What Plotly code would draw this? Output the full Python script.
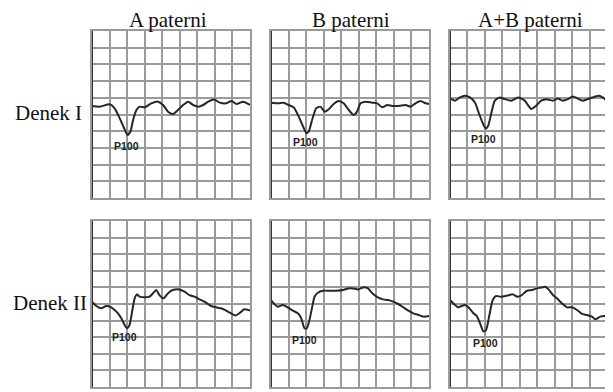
import plotly.graph_objects as go

# ---- data (grid units: x = divisions from left, y = divisions from top) ----
column_titles = ["A paterni", "B paterni", "A+B paterni"]
row_titles = ["Denek I", "Denek II"]
peak_label = "P100"

a1_x = [0, 0.44, 1.0, 1.29, 1.58, 1.83, 2.02, 2.19, 2.34, 2.53, 2.72, 3.0, 3.38, 3.76, 4.05, 4.33, 4.62,
        4.9, 5.19, 5.48, 5.76, 6.05, 6.33, 6.62, 6.96, 7.28, 7.66, 7.95, 8.23, 8.61, 9.0]
a1_y = [4.49, 4.53, 4.39, 4.63, 5.23, 5.82, 6.22, 6.02, 5.33, 4.73, 4.53, 4.57, 4.33, 4.23, 4.43, 4.83, 4.97,
        4.73, 4.43, 4.23, 4.43, 4.53, 4.43, 4.23, 4.10, 4.29, 4.33, 4.19, 4.37, 4.23, 4.43]

b1_x = [0, 0.44, 0.72, 1.0, 1.29, 1.58, 1.83, 2.02, 2.15, 2.34, 2.57, 2.81, 3.06, 3.29, 3.57, 3.86, 4.14,
        4.43, 4.71, 4.9, 5.1, 5.38, 5.76, 6.05, 6.33, 6.62, 6.9, 7.28, 7.66, 7.95, 8.23, 8.52, 8.8, 9.0]
b1_y = [4.29, 4.33, 4.29, 4.43, 4.57, 5.13, 5.73, 6.12, 6.02, 5.33, 4.63, 4.53, 4.83, 4.69, 4.37, 4.19, 4.33,
        4.73, 5.03, 4.83, 4.33, 4.23, 4.29, 4.33, 4.57, 4.43, 4.49, 4.49, 4.43, 4.53, 4.33, 4.19, 4.33, 4.37]

ab1_x = [0, 0.29, 0.57, 0.86, 1.14, 1.43, 1.67, 1.9, 2.05, 2.19, 2.38, 2.57, 2.85, 3.14, 3.52, 3.9, 4.28,
         4.66, 4.94, 5.23, 5.51, 5.89, 6.18, 6.46, 6.75, 7.03, 7.32, 7.6, 7.89, 8.17, 8.56, 8.75, 9.0]
ab1_y = [4.04, 4.17, 3.98, 3.88, 3.98, 4.28, 4.97, 5.57, 5.84, 5.67, 4.87, 4.17, 3.98, 4.08, 4.17, 3.98, 4.17,
         4.67, 4.47, 4.17, 4.08, 4.17, 4.04, 4.17, 4.08, 3.92, 4.04, 4.17, 4.08, 3.98, 3.88, 3.98, 4.17]

a2_x = [0, 0.25, 0.53, 0.81, 1.1, 1.29, 1.48, 1.67, 1.86, 1.99, 2.14, 2.3, 2.43, 2.56, 2.71, 2.99, 3.28,
        3.47, 3.66, 3.84, 4.07, 4.32, 4.6, 4.98, 5.27, 5.55, 5.84, 6.12, 6.4, 6.78, 7.07, 7.35, 7.64, 7.92,
        8.16, 8.39, 8.67, 9.0]
a2_y = [4.86, 5.12, 5.26, 5.12, 5.2, 5.36, 5.56, 5.86, 6.26, 6.46, 6.26, 5.36, 4.66, 4.42, 4.56, 4.6, 4.56,
        4.36, 4.16, 4.46, 4.66, 4.36, 4.16, 4.12, 4.26, 4.46, 4.56, 4.72, 4.86, 5.12, 5.2, 5.26, 5.4, 5.56,
        5.7, 5.56, 5.32, 5.4]

b2_x = [0, 0.19, 0.38, 0.67, 0.95, 1.24, 1.53, 1.72, 1.91, 2.04, 2.19, 2.35, 2.48, 2.67, 2.96, 3.34, 3.72,
        4.1, 4.39, 4.68, 4.96, 5.25, 5.53, 5.82, 6.11, 6.39, 6.68, 6.96, 7.25, 7.54, 7.82, 8.11, 8.4, 8.68, 9.0]
b2_y = [4.76, 5.0, 5.16, 5.06, 5.2, 5.4, 5.56, 5.86, 6.46, 6.46, 5.96, 5.16, 4.56, 4.32, 4.2, 4.2, 4.2,
        4.16, 4.06, 4.06, 4.12, 4.0, 4.06, 4.4, 4.62, 4.72, 4.76, 4.86, 5.0, 5.2, 5.4, 5.56, 5.66, 5.76, 5.72]

ab2_x = [0, 0.23, 0.48, 0.67, 0.86, 1.11, 1.34, 1.53, 1.72, 1.92, 2.07, 2.26, 2.45, 2.64, 2.91, 3.26, 3.6,
         3.87, 4.12, 4.41, 4.7, 4.98, 5.27, 5.46, 5.65, 5.9, 6.13, 6.42, 6.7, 6.99, 7.28, 7.57, 7.85, 8.14,
         8.33, 8.62, 9.0]
ab2_y = [4.76, 5.0, 5.2, 5.12, 5.06, 5.26, 5.56, 5.72, 6.16, 6.66, 6.56, 5.66, 4.76, 4.52, 4.56, 4.5, 4.42,
         4.56, 4.46, 4.2, 4.16, 4.06, 4.0, 3.96, 4.12, 4.46, 4.66, 4.96, 5.2, 5.2, 5.36, 5.6, 5.66, 5.76,
         5.92, 5.76, 5.72]

label_x = [1.96, 1.96, 1.9, 1.86, 1.91, 2.01]
label_y = [6.86, 6.62, 6.46, 7.0, 7.16, 7.32]

series_x = [a1_x, b1_x, ab1_x, a2_x, b2_x, ab2_x]
series_y = [a1_y, b1_y, ab1_y, a2_y, b2_y, ab2_y]

# ---- layout geometry (page has an 8px body margin, so the figure is 8px smaller) ----
OFF = 8
W, H = 613 - OFF, 392 - OFF
col_px = [(92, 250), (271, 429), (450, 607)]
row_px = [(31, 198), (221, 387)]


def px_x(p):
    return (p - OFF) / W


def px_y(p):
    return 1 - (p - OFF) / H


fig = go.Figure()
layout = dict(
    width=W, height=H, margin=dict(l=0, r=0, t=0, b=0),
    paper_bgcolor="white", plot_bgcolor="white", showlegend=False,
)
grid_col = "#9a9a9a"
annotations = []
shapes = []
for i in range(6):
    r, c = divmod(i, 3)
    n = i + 1
    xa = "xaxis" if n == 1 else f"xaxis{n}"
    ya = "yaxis" if n == 1 else f"yaxis{n}"
    xr = "x" if n == 1 else f"x{n}"
    yr = "y" if n == 1 else f"y{n}"
    x0, x1 = col_px[c]
    y0, y1 = row_px[r]
    layout[xa] = dict(domain=[px_x(x0), px_x(x1)], range=[0, 9], anchor=yr, dtick=1, tick0=0,
                      showticklabels=False, ticks="", showgrid=True, gridcolor=grid_col, gridwidth=2,
                      zeroline=False, showline=True, linecolor=grid_col, linewidth=2, mirror=True,
                      fixedrange=True)
    layout[ya] = dict(domain=[px_y(y1), px_y(y0)], range=[10, 0], anchor=xr, dtick=1, tick0=0,
                      showticklabels=False, ticks="", showgrid=True, gridcolor=grid_col, gridwidth=2,
                      zeroline=False, showline=True, linecolor=grid_col, linewidth=2, mirror=True,
                      fixedrange=True)
    fig.add_trace(go.Scatter(x=series_x[i], y=series_y[i], mode="lines", xaxis=xr, yaxis=yr,
                             line=dict(color="#262626", width=2, shape="spline", smoothing=0.6),
                             hoverinfo="skip"))
    shapes.append(dict(type="line", xref=xr, yref=yr, x0=0, x1=0, y0=0, y1=10,
                       line=dict(color="#333333", width=2), layer="above"))
    annotations.append(dict(x=label_x[i], y=label_y[i], xref=xr, yref=yr, text="<b>" + peak_label + "</b>",
                            showarrow=False, font=dict(family="Liberation Sans, Arial", size=10.5,
                                                       color="#222222")))

title_cx = [168, 351, 530]
title_cy = 20
for c in range(3):
    annotations.append(dict(x=px_x(title_cx[c]), y=px_y(title_cy), xref="paper", yref="paper",
                            text=column_titles[c], showarrow=False, xanchor="center", yanchor="middle",
                            font=dict(family="Liberation Serif, Times New Roman", size=21, color="#111111")))
row_cy = [113, 303]
row_cx = [48, 50]
for r in range(2):
    annotations.append(dict(x=px_x(row_cx[r]), y=px_y(row_cy[r]), xref="paper", yref="paper",
                            text=row_titles[r], showarrow=False, xanchor="center", yanchor="middle",
                            font=dict(family="Liberation Serif, Times New Roman", size=21, color="#111111")))

layout["annotations"] = annotations
layout["shapes"] = shapes
fig.update_layout(**layout)
fig.write_html("out.html")
